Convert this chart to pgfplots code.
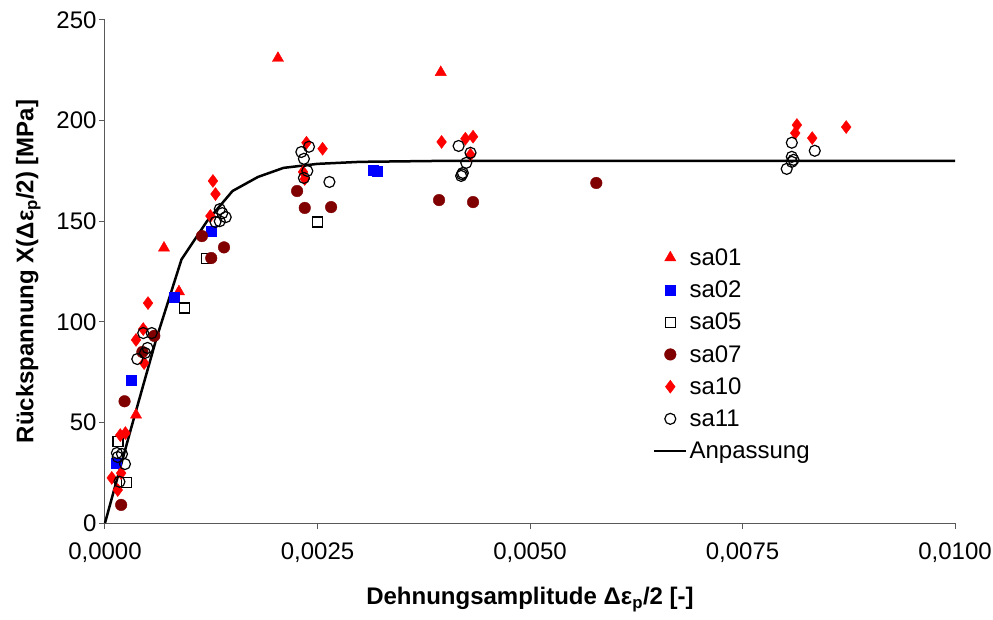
\documentclass[border=0pt]{standalone}
\usepackage{pgfplots}
\pgfplotsset{compat=1.18}
\usepackage{fontspec}
\setmainfont{Liberation Sans}
\definecolor{dred}{HTML}{800000}
\begin{document}
\begin{tikzpicture}
\begin{axis}[
  scale only axis, width=850pt, height=503pt,
  xmin=0, xmax=0.01, ymin=0, ymax=250,
  axis x line*=bottom, axis y line*=left,
  axis line style={gray!70!black, line width=1pt},
  xtick={0,0.0025,0.005,0.0075,0.01},
  xticklabels={{0,0000},{0,0025},{0,0050},{0,0075},{0,0100}},
  ytick={0,50,100,150,200,250},
  tick align=outside, major tick length=6pt,
  tick style={gray!70!black, line width=1pt},
  /pgf/number format/assume math mode=true,
  ticklabel style={font=\fontsize{24}{28}\selectfont},
  xticklabel style={yshift=-10pt},
  yticklabel style={xshift=1pt},
  scaled x ticks=false,
  xlabel={\textbf{Dehnungsamplitude Δε\textsubscript{p}/2 [-]}},
  ylabel={\textbf{Rückspannung X(Δε\textsubscript{p}/2) [MPa]}},
  label style={font=\fontsize{24}{28}\selectfont},
  xlabel style={yshift=-18pt},
  ylabel style={yshift=9pt},
  clip=false,
  legend style={at={(0.641,0.554)}, anchor=north west, draw=none, fill=none,
    font=\fontsize{24}{28}\selectfont, row sep=10pt},
  legend cell align=left,
  legend image code/.code={\draw[mark repeat=2,mark phase=2] plot coordinates {(0pt,0pt)(16pt,0pt)(32pt,0pt)};},
]
\coordinate (O) at (rel axis cs:0,0);
\coordinate (T) at (rel axis cs:1,1);
\addplot[only marks, mark=triangle*, mark size=6.5pt, color=red] coordinates {
(0.000365,53.7)(0.00087,115)(0.000694,136.7)(0.002035,231)(0.00395,224)};
\addlegendentry{sa01}
\addplot[only marks, mark=square*, mark size=5pt, color=blue] coordinates {
(0.00013,29.8)(0.000306,71)(0.00081,112)(0.00125,145)(0.00315,175.4)(0.0032,175)};
\addlegendentry{sa02}
\addplot[only marks, mark=square, mark size=5pt, color=black, line width=1.2pt, fill=white] coordinates {
(0.000153,40.5)(0.000255,20)(0.00094,106.9)(0.00119,131.5)(0.0025,149.6)};
\addlegendentry{sa05}
\addplot[only marks, mark=*, mark size=5.8pt, color=dred] coordinates {
(0.00019,9)(0.00023,60.5)(0.00058,93)(0.00044,85)(0.00114,142.6)(0.00125,131.7)(0.0014,137)
(0.00226,165)(0.00235,156.6)(0.00266,157)(0.00393,160.5)(0.00433,159.5)(0.00578,169)};
\addlegendentry{sa07}
\addplot[only marks, mark=diamond*, mark size=6.5pt, color=red] coordinates {
(0.00008,22.4)(0.00019,24.8)(0.00015,16.4)(0.00018,43.7)(0.00024,44.7)(0.000506,109.3)
(0.00045,96.4)(0.000365,91)(0.00046,79.5)(0.00127,170)(0.0013,163.5)(0.00124,152.6)
(0.00237,189)(0.00256,186)(0.00233,174.5)(0.00235,171)(0.00396,189.4)(0.00424,191)
(0.00433,192)(0.0043,183)(0.00814,197.8)(0.00812,193.8)(0.00832,191.3)(0.00872,196.8)};
\addlegendentry{sa10}
\addplot[only marks, mark=o, mark size=5.5pt, color=black, line width=1.2pt] coordinates {
(0.00045,94.4)(0.00055,94.4)(0.0005,87)(0.00047,84.5)(0.00038,81.5)(0.00014,34.8)(0.0002,34.3)
(0.000235,29.3)(0.00015,32.8)(0.00017,20.5)(0.00135,156)(0.00138,154)(0.00142,152)(0.0013,149.6)
(0.00135,150)(0.00231,184.4)(0.0024,187)(0.00234,181)(0.00238,175)(0.00234,171.5)(0.00264,169.5)
(0.00416,187.4)(0.0043,184)(0.00425,179)(0.00421,174)(0.00419,172.5)(0.0042,173.3)
(0.00808,189)(0.00835,185)(0.00808,182)(0.00808,179.5)(0.0081,180.5)(0.00802,176)};
\addlegendentry{sa11}
\addplot[black, line width=2.5pt, no marks] coordinates {
(0,0)(0.0003,46)(0.0006,91)(0.0009,131)(0.0012,150)(0.0015,165)(0.0018,172)(0.0021,176.5)
(0.0025,178.5)(0.003,179.5)(0.004,180)(0.01,180)};
\addlegendentry{Anpassung}
\end{axis}
\pgfresetboundingbox
\path (O) ++(-105pt,-96pt) coordinate (A);
\path (T) ++(38pt,20pt) coordinate (B);
\path (A) rectangle (B);
\end{tikzpicture}
\end{document}
